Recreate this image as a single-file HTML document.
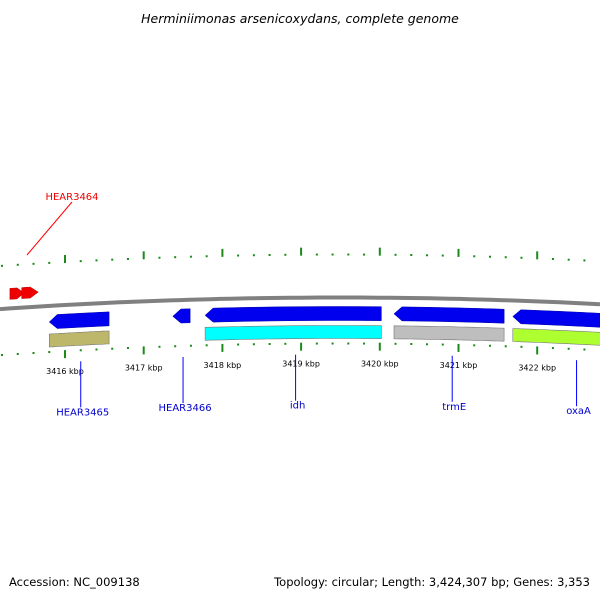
<!DOCTYPE html>
<html><head><meta charset="utf-8"><style>
body{margin:0;background:#fff}
svg{display:block;font-family:"DejaVu Sans","Liberation Sans",sans-serif}
</style></head><body>
<svg id="c" width="600" height="600" viewBox="0 0 600 600">
<text x="300" y="23" text-anchor="middle" font-size="12.5" font-style="italic" fill="#000">Herminiimonas arsenicoxydans, complete genome</text>
<text x="9" y="586" font-size="11.5" fill="#000">Accession: NC_009138</text>
<text x="590" y="586" font-size="11.5" text-anchor="end" fill="#000">Topology: circular; Length: 3,424,307 bp; Genes: 3,353</text>
<g id="g"></g>
</svg>
<script>
const geneNames=["HEAR3464a","HEAR3464b","HEAR3465","HEAR3466","idh","trmE","oxaA"];
const geneStart=[3415.30,3415.45,3415.80,3417.37,3417.78,3420.18,3421.69];
const geneEnd=[3415.48,3415.66,3416.56,3417.59,3420.02,3421.58,3423.2];
const geneStrand=[1,1,-1,-1,-1,-1,-1];
const cdsColors=[null,null,"#bdb76b","","#00ffff","#bebebe","#adff2f"];
const tickLabels=[3416,3417,3418,3419,3420,3421,3422];
const labelNames=["HEAR3464","HEAR3465","HEAR3466","idh","trmE","oxaA"];
const labelPos=[3415.52,3416.2,3417.5,3418.93,3420.92,3422.5];
const NS="http://www.w3.org/2000/svg";
const g=document.getElementById('g');
const CX=340,R=5000,CY=297.5+R;
function X(k){return 65+(k-3416)*78.7;}
function Y(x,off){const r=R+off;return CY-Math.sqrt(r*r-(x-CX)*(x-CX));}
function el(t,a,p){const e=document.createElementNS(NS,t);for(const k in a)e.setAttribute(k,a[k]);(p||g).appendChild(e);return e;}
function band(x1,x2,o1,o2){let d="";const n=20;for(let i=0;i<=n;i++){const x=x1+(x2-x1)*i/n;d+=(i?"L":"M")+x.toFixed(1)+","+Y(x,o1).toFixed(1);}for(let i=n;i>=0;i--){const x=x1+(x2-x1)*i/n;d+="L"+x.toFixed(1)+","+Y(x,o2).toFixed(1);}return d+"Z";}
function arrow(x1,x2,o1,o2,dir){const h=Math.min(8,(x2-x1)*0.5);const om=(o1+o2)/2;let d="";const n=16;
if(dir<0){const a=x1+h;d="M"+x1+","+Y(x1,om);for(let i=0;i<=n;i++){const x=a+(x2-a)*i/n;d+="L"+x+","+Y(x,o1);}for(let i=n;i>=0;i--){const x=a+(x2-a)*i/n;d+="L"+x+","+Y(x,o2);}}
else{const b=x2-h;d="M"+x1+","+Y(x1,o1);for(let i=0;i<=n;i++){const x=x1+(b-x1)*i/n;d+="L"+x+","+Y(x,o1);}d+="L"+x2+","+Y(x2,om);for(let i=n;i>=0;i--){const x=x1+(b-x1)*i/n;d+="L"+x+","+Y(x,o2);}}
return d+"Z";}
let bd="";for(let x=0;x<=600;x+=10)bd+=(x?"L":"M")+x+","+Y(x,0).toFixed(1);
const bb=el('path',{d:bd,stroke:'#808080','stroke-width':4,fill:'none'});

for(let k=3415.0;k<=3423.4;k+=0.2){const kk=Math.round(k*10)/10;const x=X(kk);if(x<0||x>600)continue;const big=Math.abs(kk-Math.round(kk))<0.01;
const t1=el('line',{x1:x,x2:x,y1:Y(x,big?50:44),y2:Y(x,42),stroke:'#1a8a1a','stroke-width':2});

const t2=el('line',{x1:x,x2:x,y1:Y(x,-45),y2:Y(x,big?-53:-47),stroke:'#1a8a1a','stroke-width':2});
}
tickLabels.forEach(k=>{const x=X(k);const t=el('text',{x:x,y:Y(x,-69),'font-size':8,'text-anchor':'middle',fill:'#000'});t.textContent=k+" kbp";
});
for(let i=0;i<geneNames.length;i++){const x1=X(geneStart[i]),x2=Math.min(X(geneEnd[i]),620);
let p;if(geneStrand[i]>0){p=el('path',{d:arrow(x1,x2,20,9,1),fill:'#ee0000',stroke:'#b00000','stroke-width':0.5});}
else{p=el('path',{d:arrow(x1,x2,-9,-23,-1),fill:'#0000ee',stroke:'#0000aa','stroke-width':0.5});}

if(cdsColors[i]){const c=el('path',{d:band(x1,x2,-28,-41),fill:cdsColors[i],stroke:'#777','stroke-width':0.6});
}}
labelNames.forEach((n,i)=>{const x=X(labelPos[i]);const red=i==0;
if(red){const l=el('line',{x1:72,y1:202,x2:27,y2:255,stroke:'#f00','stroke-width':1});
const t=el('text',{x:72,y:200,'font-size':10,'text-anchor':'middle',fill:'#e00'});t.textContent=n;}
else{const l=el('line',{x1:x,y1:Y(x,-57),x2:x,y2:Y(x,-103),stroke:'#00f','stroke-width':1});
const t=el('text',{x:x+2,y:Y(x,-111),'font-size':10,'text-anchor':'middle',fill:'#00c'});t.textContent=n;}});
</script>
</body></html>
